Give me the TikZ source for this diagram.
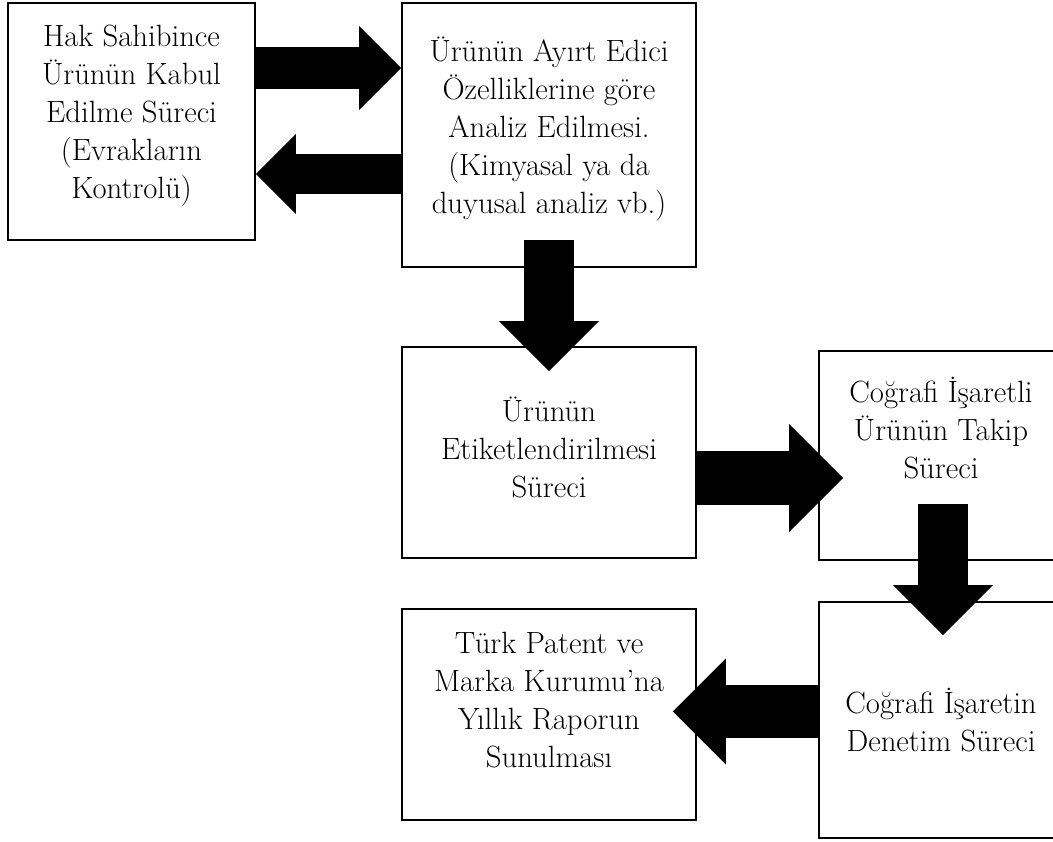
\documentclass[tikz,border=0pt]{standalone}
\usepackage{fontspec}
\usepackage{tikz}
\usetikzlibrary{arrows.meta, calc, shadows}
\newcommand{\altbosluk}[1]{\rule[-#1]{0pt}{#1}}

\begin{document}
\begin{tikzpicture}[x=0.02cm, y=-0.02cm]
        \tikzstyle{surec}=[draw, rectangle, line width=1pt, fill=white, align=center, font=\fontsize{17.5}{21.6}\selectfont, drop shadow={opacity=0.2, shadow xshift=0.7pt, shadow yshift=-0.7pt}];
        \tikzstyle{blok}=[-{Triangle[length=0pt 1, width=0pt 2, line width=0pt]}];
        \clip (0,0) rectangle (1053,841);

        \node[surec, minimum width=4.94cm, minimum height=4.74cm] (kabul) at (131.5,121.5) {Hak Sahibince\\Ürünün Kabul\\Edilme Süreci\\(Evrakların\\Kontrolü)\altbosluk{11pt}};
        \node[surec, minimum width=5.88cm, minimum height=5.28cm] (analiz) at (549,135) {Ürünün Ayırt Edici\\Özelliklerine göre\\Analiz Edilmesi.\\(Kimyasal ya da\\duyusal analiz vb.)\altbosluk{11pt}};
        \node[surec, minimum width=5.88cm, minimum height=4.22cm] (etiket) at (549,452.5) {Ürünün\\Etiketlendirilmesi\\Süreci\altbosluk{6pt}};
        \node[surec, minimum width=4.88cm, minimum height=4.18cm] (takip) at (941,455.5) {Coğrafi İşaretli\\Ürünün Takip\\Süreci\altbosluk{32pt}};
        \node[surec, minimum width=4.88cm, minimum height=4.72cm] (denetim) at (941,720) {Coğrafi İşaretin\\Denetim Süreci};
        \node[surec, minimum width=5.88cm, minimum height=4.22cm] (rapor) at (549,714.5) {Türk Patent ve\\Marka Kurumu’na\\Yıllık Raporun\\Sunulması\altbosluk{17pt}};

        \coordinate (s1) at ($(kabul.east)+(0,-53.5)$);
        \coordinate (s2) at ($(kabul.east)+(0,52.5)$);
        \coordinate (s3) at ($(etiket.east)+(0,25.5)$);
        \coordinate (s4) at ($(denetim.west)+(0,-8.5)$);

        \draw[blok, line width=0.84cm] (s1) -- (s1 -| analiz.west);
        \draw[blok, line width=0.8cm] (s2 -| analiz.west) -- (s2);
        \draw[blok, line width=1cm] ($(analiz.south)+(0,-28)$) -- ($(etiket.north)+(0,25)$);
        \draw[blok, line width=1.08cm] (s3) -- ($(takip.west |- s3)+(25,0)$);
        \draw[blok, line width=1cm] ($(takip.south)+(2,-57)$) -- ($(denetim.north)+(2,34)$);
        \draw[blok, line width=1.06cm] (s4) -- ($(rapor.east |- s4)+(-24,0)$);
\end{tikzpicture}
\end{document}
